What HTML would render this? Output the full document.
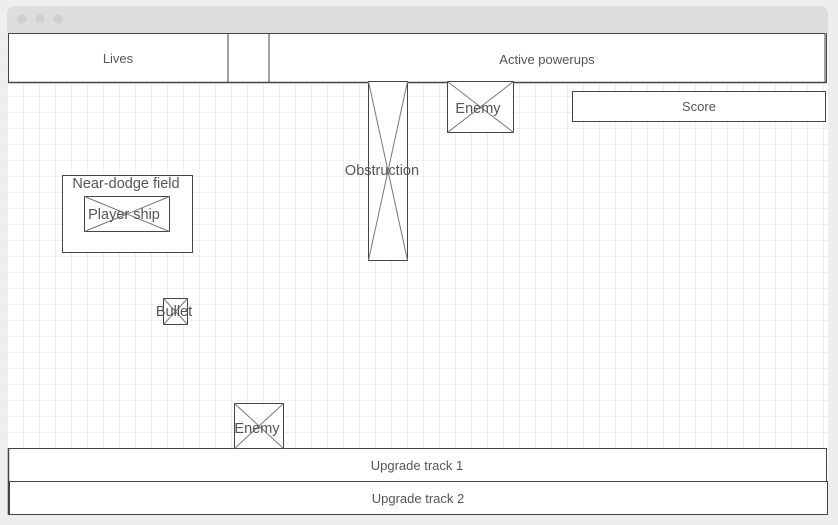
<!DOCTYPE html>
<html><head><meta charset="utf-8"><style>
html,body{margin:0;padding:0;background:#eeeeee;width:838px;height:525px;overflow:hidden}
svg{display:block}
text{font-family:"Liberation Sans",sans-serif;fill:#555}
</style></head><body>
<svg width="838" height="525" xmlns="http://www.w3.org/2000/svg">
<defs>
<pattern id="g" x="7" y="0" width="16" height="16" patternUnits="userSpaceOnUse">
<path d="M0 0H16M0 0V16" stroke="#e2e2e2" stroke-width="1" fill="none"/>
</pattern>
</defs>
<rect x="0" y="0" width="838" height="525" fill="#eeeeee"/>
<path d="M7 14 a8 8 0 0 1 8 -8 H820 a8 8 0 0 1 8 8 V33 H7Z" fill="#dddddd"/>
<circle cx="22" cy="19" r="4.5" fill="#cfcfcf"/>
<circle cx="40" cy="19" r="4.5" fill="#cfcfcf"/>
<circle cx="58" cy="19" r="4.5" fill="#cfcfcf"/>
<rect x="7" y="33" width="821" height="482" fill="#fff"/>
<rect x="7" y="33" width="821" height="482" fill="url(#g)"/>
<g stroke="#444" fill="#fff" stroke-width="1">
<rect x="8.5" y="33.5" width="219.5" height="49"/>
<rect x="228" y="33.5" width="41" height="49"/>
<rect x="269" y="33.5" width="556" height="49"/>
<line x1="826.5" y1="33" x2="826.5" y2="83"/>
<line x1="8" y1="82.5" x2="826" y2="82.5" stroke-width="1.5"/>
<rect x="572.5" y="91.5" width="253" height="30"/>
<rect x="62.5" y="175.5" width="130" height="77"/>
<rect x="8.5" y="448.5" width="818" height="33"/>
<rect x="9.5" y="481.5" width="818" height="33"/>
<line x1="8.5" y1="448" x2="8.5" y2="515" stroke-width="1.5"/>
</g>
<g stroke="#444" fill="#fff">
<rect x="368.5" y="81.5" width="39" height="179"/>
<rect x="447.5" y="81.5" width="66" height="51"/>
<rect x="84.5" y="196.5" width="85" height="35"/>
<rect x="163.5" y="298.5" width="24" height="26"/>
<rect x="234.5" y="403.5" width="49" height="45"/>
</g>
<g stroke="#777" stroke-width="1">
<line x1="368.5" y1="81.5" x2="407.5" y2="260.5"/><line x1="407.5" y1="81.5" x2="368.5" y2="260.5"/>
<line x1="447.5" y1="81.5" x2="513.5" y2="132.5"/><line x1="513.5" y1="81.5" x2="447.5" y2="132.5"/>
<line x1="84.5" y1="196.5" x2="169.5" y2="231.5"/><line x1="169.5" y1="196.5" x2="84.5" y2="231.5"/>
<line x1="163.5" y1="298.5" x2="187.5" y2="324.5"/><line x1="187.5" y1="298.5" x2="163.5" y2="324.5"/>
<line x1="234.5" y1="403.5" x2="283.5" y2="448.5"/><line x1="283.5" y1="403.5" x2="234.5" y2="448.5"/>
</g>
<g font-size="13" text-anchor="middle">
<text x="118" y="63">Lives</text>
<text x="547" y="64">Active powerups</text>
<text x="699" y="111">Score</text>
<text x="417" y="470">Upgrade track 1</text>
<text x="418" y="503">Upgrade track 2</text>
</g>
<g font-size="14.5" text-anchor="middle">
<text x="382" y="175">Obstruction</text>
<text x="478" y="113">Enemy</text>
<text x="126" y="188">Near-dodge field</text>
<text x="124" y="219">Player ship</text>
<text x="174" y="316">Bullet</text>
<text x="257" y="433">Enemy</text>
</g>
</svg>
</body></html>
